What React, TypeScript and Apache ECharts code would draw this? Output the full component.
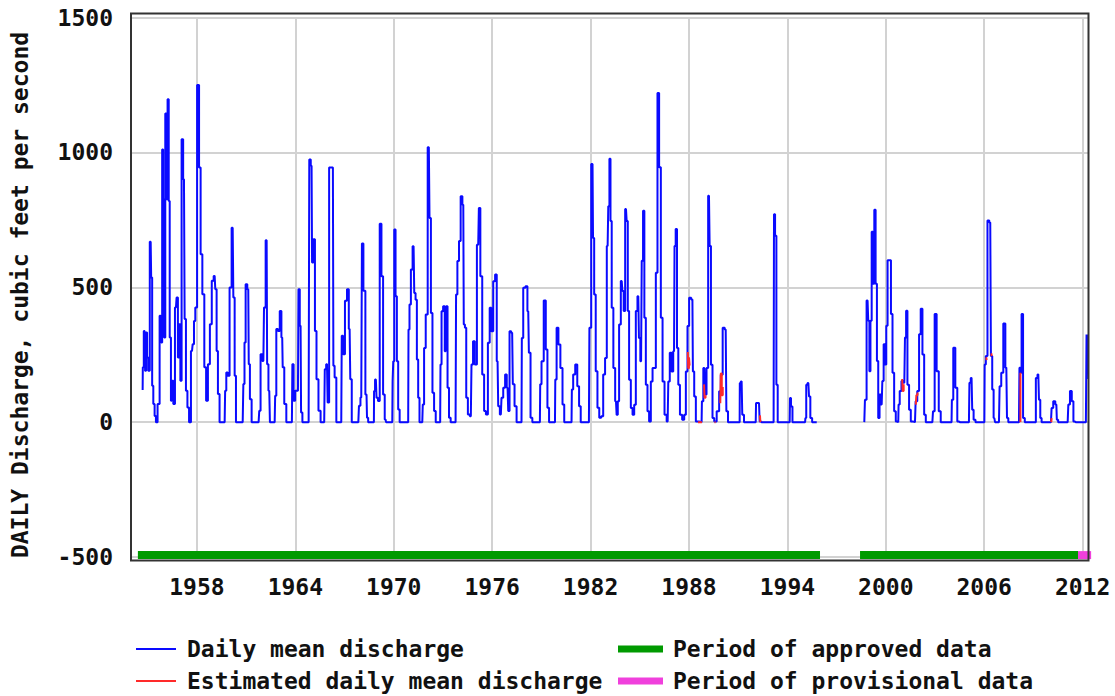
import React, { useEffect, useRef } from "react";
import * as echarts from "echarts";

const yearTicks = [1958, 1964, 1970, 1976, 1982, 1988, 1994, 2000, 2006, 2012];

// Daily mean discharge (cfs), [year, value]
const flow1954to1968: [number, number][] = [
  [1954.69,119],[1954.71,203],[1954.81,338],[1954.87,190],[1954.93,332],[1954.99,240],[1955.07,190],[1955.18,669],[1955.24,536],[1955.30,135],[1955.38,67],[1955.46,23],[1955.54,0],[1955.66,67],[1955.79,394],[1955.85,295],[1955.91,1011],[1955.97,826],[1956.03,314],[1956.11,1144],[1956.17,826],[1956.25,1197],[1956.31,820],[1956.37,314],[1956.46,79],[1956.52,153],[1956.60,67],[1956.72,425],[1956.80,462],[1956.88,240],[1956.96,363],[1957.02,153],[1957.11,1049],[1957.21,900],[1957.29,382],[1957.37,116],[1957.47,54],[1957.57,0],[1957.70,264],[1957.78,289],[1957.86,375],[1957.94,425],[1958.08,1250],[1958.18,944],[1958.27,622],[1958.39,474],[1958.51,203],[1958.61,79],[1958.73,215],[1958.85,363],[1958.96,524],[1959.08,542],[1959.16,493],[1959.24,264],[1959.32,104],[1959.44,0],[1959.69,0],[1959.75,116],[1959.83,184],[1959.93,172],[1960.05,499],[1960.18,721],[1960.26,462],[1960.34,172],[1960.42,0],[1960.79,0],[1960.87,141],[1960.93,295],[1961.01,511],[1961.13,493],[1961.19,215],[1961.27,85],[1961.40,0],[1961.76,0],[1961.84,42],[1961.92,252],[1962.05,227],[1962.13,425],[1962.25,674],[1962.31,215],[1962.41,116],[1962.49,0],[1962.74,0],[1962.80,98],[1962.88,345],[1963.00,338],[1963.10,412],[1963.20,314],[1963.26,203],[1963.39,67],[1963.51,0],[1963.79,0],[1963.85,215],[1963.94,79],[1964.04,116],[1964.16,116],[1964.22,493],[1964.32,357],[1964.38,36],[1964.48,0],[1964.81,0],[1964.89,974],[1964.99,950],[1965.05,592],[1965.15,678],[1965.24,338],[1965.34,159],[1965.48,42],[1965.60,0],[1965.76,0],[1965.83,196],[1965.93,215],[1966.01,73],[1966.11,944],[1966.29,944],[1966.35,209],[1966.44,165],[1966.56,0],[1966.80,0],[1966.86,320],[1966.96,252],[1967.09,450],[1967.21,493],[1967.31,345],[1967.39,159],[1967.49,0],[1967.84,0],[1967.92,61],[1968.02,91],[1968.10,662],[1968.20,487]
];

const flow1968to1982: [number, number][] = [
  [1968.34,102],[1968.40,16],[1968.48,0],[1968.79,0],[1968.81,115],[1968.91,158],[1968.99,90],[1969.09,78],[1969.20,735],[1969.30,541],[1969.40,102],[1969.50,10],[1969.56,0],[1969.91,0],[1969.95,152],[1969.99,226],[1970.07,714],[1970.15,467],[1970.23,226],[1970.31,47],[1970.41,0],[1970.88,0],[1970.92,343],[1971.00,436],[1971.09,566],[1971.21,652],[1971.29,479],[1971.37,454],[1971.45,232],[1971.53,90],[1971.61,0],[1971.74,0],[1971.80,65],[1971.90,275],[1972.00,399],[1972.14,1019],[1972.22,757],[1972.31,405],[1972.41,109],[1972.51,41],[1972.61,0],[1972.83,0],[1972.87,214],[1972.96,411],[1973.06,430],[1973.16,263],[1973.24,430],[1973.32,127],[1973.42,16],[1973.52,0],[1973.77,0],[1973.83,473],[1973.93,597],[1974.03,671],[1974.13,837],[1974.24,806],[1974.30,362],[1974.38,350],[1974.46,90],[1974.58,28],[1974.70,22],[1974.78,214],[1974.89,300],[1974.99,214],[1975.15,658],[1975.23,794],[1975.33,541],[1975.46,177],[1975.56,41],[1975.68,28],[1975.80,294],[1975.90,424],[1976.00,337],[1976.13,522],[1976.23,547],[1976.33,226],[1976.41,59],[1976.53,28],[1976.61,90],[1976.74,127],[1976.84,177],[1976.94,127],[1977.02,41],[1977.10,337],[1977.22,331],[1977.30,140],[1977.43,59],[1977.55,0],[1977.79,0],[1977.83,312],[1977.96,498],[1978.10,504],[1978.20,411],[1978.28,257],[1978.40,16],[1978.50,0],[1978.91,0],[1978.95,140],[1979.07,226],[1979.22,451],[1979.32,269],[1979.42,53],[1979.52,0],[1979.83,0],[1979.87,158],[1979.99,350],[1980.09,288],[1980.23,201],[1980.35,65],[1980.44,0],[1980.84,0],[1980.88,121],[1981.00,177],[1981.13,214],[1981.25,133],[1981.35,59],[1981.45,0],[1981.90,0],[1981.96,350],[1982.12,957],[1982.18,683],[1982.26,473],[1982.37,189],[1982.47,53],[1982.59,16],[1982.71,22],[1982.83,177]
];

const flow1983to1995: [number, number][] = [
  [1982.94,238],[1983.04,653],[1983.12,800],[1983.18,976],[1983.25,746],[1983.33,424],[1983.45,201],[1983.55,77],[1983.63,27],[1983.69,77],[1983.79,362],[1983.90,523],[1983.98,486],[1984.06,412],[1984.16,790],[1984.24,746],[1984.30,412],[1984.40,157],[1984.51,52],[1984.61,27],[1984.71,64],[1984.81,412],[1984.91,467],[1984.99,312],[1985.08,226],[1985.16,598],[1985.24,784],[1985.32,387],[1985.42,139],[1985.52,40],[1985.62,2],[1985.73,151],[1985.83,201],[1985.93,201],[1986.03,554],[1986.13,1220],[1986.23,945],[1986.34,387],[1986.44,151],[1986.58,27],[1986.70,2],[1986.78,151],[1986.88,257],[1986.99,188],[1987.09,263],[1987.15,653],[1987.23,716],[1987.31,275],[1987.39,139],[1987.51,27],[1987.66,9],[1987.76,27],[1987.86,188],[1987.96,356],[1988.06,461],[1988.21,455],[1988.27,188],[1988.37,95],[1988.47,2],[1988.77,0],[1988.81,77],[1988.94,201],[1989.02,102],[1989.12,201],[1989.22,839],[1989.30,653],[1989.38,213],[1989.49,15],[1989.59,2],[1989.79,40],[1989.89,114],[1989.99,176],[1990.12,350],[1990.24,343],[1990.32,40],[1990.44,0],[1991.09,0],[1991.11,145],[1991.21,151],[1991.29,27],[1991.42,0],[1992.07,0],[1992.11,71],[1992.27,71],[1992.35,2],[1992.43,0],[1993.16,0],[1993.21,771],[1993.29,691],[1993.37,139],[1993.45,0],[1994.14,0],[1994.18,89],[1994.26,58],[1994.36,0],[1995.08,0],[1995.12,15],[1995.18,139],[1995.28,145],[1995.36,95],[1995.44,15],[1995.58,0],[1995.79,0]
];

const flow1998to2012: [number, number][] = [
  [1998.69,0],[1998.77,83],[1998.89,451],[1998.97,376],[1999.03,189],[1999.10,376],[1999.18,706],[1999.26,513],[1999.34,787],[1999.42,513],[1999.50,227],[1999.58,15],[1999.66,102],[1999.75,65],[1999.83,152],[1999.91,289],[1999.99,214],[2000.07,357],[2000.15,600],[2000.27,600],[2000.36,401],[2000.46,183],[2000.56,40],[2000.66,2],[2000.76,0],[2000.80,65],[2000.90,115],[2001.01,152],[2001.13,146],[2001.21,314],[2001.27,413],[2001.37,139],[2001.47,46],[2001.58,2],[2001.78,0],[2001.86,77],[2001.98,115],[2002.08,326],[2002.18,420],[2002.29,251],[2002.39,27],[2002.49,0],[2002.84,0],[2002.92,40],[2003.04,401],[2003.16,189],[2003.30,40],[2003.40,0],[2004.01,0],[2004.05,83],[2004.18,276],[2004.30,127],[2004.42,2],[2004.52,0],[2005.07,0],[2005.13,146],[2005.23,164],[2005.31,46],[2005.40,9],[2005.54,0],[2006.01,0],[2006.05,214],[2006.15,245],[2006.25,747],[2006.37,740],[2006.45,245],[2006.53,121],[2006.62,15],[2006.70,0],[2006.90,0],[2006.98,133],[2007.10,183],[2007.23,366],[2007.35,202],[2007.43,15],[2007.51,0],[2008.12,0],[2008.18,202],[2008.24,183],[2008.32,401],[2008.42,15],[2008.53,0],[2009.10,0],[2009.20,164],[2009.30,177],[2009.38,83],[2009.46,15],[2009.54,0],[2010.07,0],[2010.15,52],[2010.27,77],[2010.40,65],[2010.46,9],[2010.56,0],[2011.09,0],[2011.17,65],[2011.29,115],[2011.39,77],[2011.49,2],[2011.58,0],[2012.20,0],[2012.23,110],[2012.25,325],[2012.27,160],[2012.29,215],[2012.31,325]
];

// Estimated daily mean discharge segments
const estimatedSegments: [number, number][][] = [
  [[1987.93,260],[1987.98,200],[1988.02,240],[1988.06,210]],
  [[1988.55,0],[1988.79,0]],
  [[1988.92,140],[1988.98,90],[1989.04,100]],
  [[1989.56,0],[1989.62,0]],
  [[1989.91,70],[1989.97,180],[1990.03,100],[1990.09,130]],
  [[1992.33,25],[1992.38,0]],
  [[2001.00,160],[2001.06,115],[2001.12,140]],
  [[2001.83,65],[2001.90,100],[2001.97,110]],
  [[2006.13,240],[2006.16,230]],
  [[2006.44,255],[2006.47,245]],
  [[2008.21,183],[2008.215,0]],
  [[2010.09,0],[2010.13,15]]
];

// Periods [start year, end year]
const approvedPeriods: [number, number][] = [[1954.40, 1995.99], [1998.43, 2011.72]];
const provisionalPeriods: [number, number][] = [[2011.72, 2012.52]];

const FONT = "'DejaVu Sans Mono', monospace";
const FS = 23;
const BLUE = "#0a0aff";
const RED = "#ff2a2a";
const GREEN = "#009a00";
const MAGENTA = "#f040dc";
const BAR_LEVEL = -493;

function buildOption() {
  const blueData = [...flow1954to1968, ...flow1968to1982, ...flow1983to1995];
  const lineSeries = (data: [number, number][], color: string, z: number) => ({
    type: "line",
    data,
    step: "middle",
    showSymbol: false,
    symbol: "none",
    lineStyle: { color, width: 2 },
    z,
    silent: true,
  });
  const periodSeries = (p: [number, number], color: string) => ({
    type: "line",
    data: [[p[0], BAR_LEVEL], [p[1], BAR_LEVEL]],
    showSymbol: false,
    symbol: "none",
    clip: false,
    lineStyle: { color, width: 8, cap: "butt" },
    z: 4,
    silent: true,
  });
  const series: any[] = [
    lineSeries(blueData, BLUE, 3),
    lineSeries(flow1998to2012, BLUE, 3),
    ...estimatedSegments.map((s) => lineSeries(s, RED, 5)),
    ...approvedPeriods.map((p) => periodSeries(p, GREEN)),
    ...provisionalPeriods.map((p) => periodSeries(p, MAGENTA)),
  ];

  const labelStyle = { fontFamily: FONT, fontWeight: "bold", fontSize: FS, color: "#111" };
  const txt = (x: number, y: number, text: string) => ({
    type: "text",
    x,
    y,
    silent: true,
    style: { text, fill: "#111", font: `bold ${FS}px ${FONT}`, textAlign: "left", textVerticalAlign: "middle", align: "left", verticalAlign: "middle" },
  });
  const leg = (x1: number, x2: number, y: number, color: string, w: number) => ({
    type: "line",
    silent: true,
    shape: { x1, y1: y, x2, y2: y },
    style: { stroke: color, lineWidth: w },
  });

  return {
    animation: false,
    backgroundColor: "#ffffff",
    grid: { left: 131, right: 26.5, top: 17.5, bottom: 139, containLabel: false },
    xAxis: {
      type: "value",
      min: 1953.98,
      max: 2012.36,
      axisLine: { show: false },
      axisTick: { show: false, customValues: yearTicks },
      axisLabel: { ...labelStyle, margin: 18, customValues: yearTicks, formatter: (v: number) => String(Math.round(v)) },
      splitLine: { show: true, lineStyle: { color: "#d2d2d2", width: 2 } },
    },
    yAxis: {
      type: "value",
      min: -500,
      max: 1500,
      interval: 500,
      axisLine: { show: false },
      axisTick: { show: false },
      axisLabel: { ...labelStyle, margin: 18, formatter: (v: number) => String(v) },
      splitLine: { show: true, lineStyle: { color: "#d2d2d2", width: 2 } },
    },
    series,
    graphic: [
      {
        type: "rect",
        silent: true,
        z: 100,
        shape: { x: 131, y: 13.5, width: 957.5, height: 547 },
        style: { fill: "none", stroke: "#333", lineWidth: 2 },
      },
      {
        type: "text",
        x: 20,
        y: 295,
        rotation: Math.PI / 2,
        silent: true,
        style: { text: "DAILY Discharge, cubic feet per second", fill: "#111", font: `bold ${FS}px ${FONT}`, textAlign: "center", textVerticalAlign: "middle", align: "center", verticalAlign: "middle" },
      },
      leg(136, 176, 649, BLUE, 2),
      txt(187, 649, "Daily mean discharge"),
      leg(136, 176, 681, RED, 2),
      txt(187, 681, "Estimated daily mean discharge"),
      leg(618, 663, 649, GREEN, 7),
      txt(673, 649, "Period of approved data"),
      leg(618, 663, 681, MAGENTA, 7),
      txt(673, 681, "Period of provisional data"),
    ],
  };
}

export default function App() {
  const ref = useRef<HTMLDivElement>(null);
  useEffect(() => {
    const chart = echarts.init(ref.current!, null, { renderer: "svg" });
    chart.setOption(buildOption() as any);
    return () => chart.dispose();
  }, []);
  return (
    <div
      ref={ref}
      style={{ position: "fixed", left: 0, top: 0, width: 1115, height: 696, background: "#fff" }}
    />
  );
}
